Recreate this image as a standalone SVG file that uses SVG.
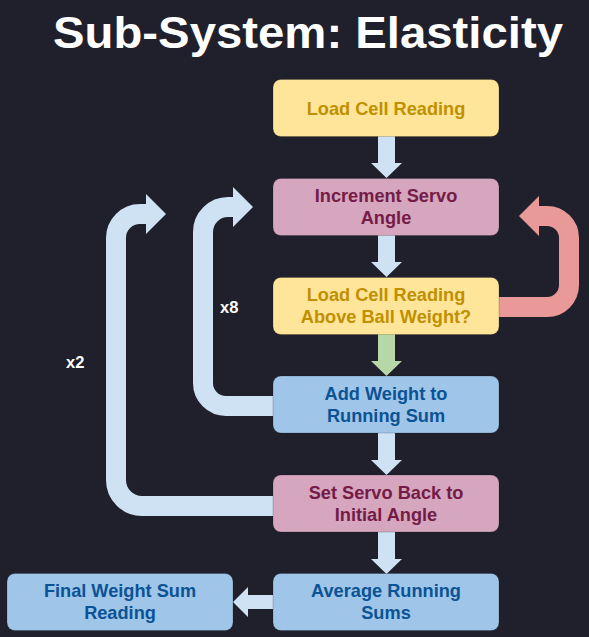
<svg xmlns="http://www.w3.org/2000/svg" width="589" height="637" viewBox="0 0 589 637">
<style>
.bg{fill:#1f202b}
.box{stroke:#000;stroke-opacity:0.18;stroke-width:1}
.y{fill:#ffe599}.p{fill:#d5a6bd}.b{fill:#9fc5e8}
.t{font-family:"Liberation Sans",Arial,sans-serif;font-weight:bold;font-size:18.2px;text-anchor:middle}
.ty{fill:#bf9000}.tp{fill:#741b47}.tb{fill:#0b5394}
.loop{fill:none;stroke-width:20;stroke-linejoin:round}
.lb{stroke:#cfe2f3}.lr{stroke:#ea9999}
.fb{fill:#cfe2f3}.fr{fill:#ea9999}.fg{fill:#b6d7a8}
.lbl{font-family:"Liberation Sans",Arial,sans-serif;font-weight:bold;font-size:16.5px;fill:#ffffff}
</style>
<rect class="bg" x="0" y="0" width="589" height="637"/>
<text x="308" y="48" font-family="Liberation Sans, Arial, sans-serif" font-weight="bold" font-size="45" fill="#ffffff" text-anchor="middle" textLength="510" lengthAdjust="spacingAndGlyphs">Sub-System: Elasticity</text>
<g id="connectors">
  <polygon class="fb" points="378,136 395,136 395,163 402,163 386.5,178 371,163 378,163"/>
  <polygon class="fb" points="378,235 395,235 395,262 402,262 386.5,277 371,262 378,262"/>
  <polygon class="fg" points="378,334 395,334 395,361 402,361 386.5,376 371,361 378,361"/>
  <polygon class="fb" points="378,432 395,432 395,460 402,460 386.5,475 371,460 378,460"/>
  <polygon class="fb" points="378,531 395,531 395,559 402,559 386.5,574 371,559 378,559"/>
  <polygon class="fb" points="273,595 248,595 248,587 233,602 248,617 248,609 273,609"/>
  <path class="loop lb" d="M 274 406 H 226 A 23 23 0 0 1 203 383 V 232 A 25 25 0 0 1 228 207 H 236"/>
  <polygon class="fb" points="233,187 253,207 233,227"/>
  <path class="loop lb" d="M 274 506 H 142 A 26 26 0 0 1 116 480 V 238 A 24 24 0 0 1 140 214 H 148"/>
  <polygon class="fb" points="146,194 166,214 146,234"/>
  <path class="loop lr" d="M 498 307 H 547 A 22 22 0 0 0 569 285 V 238 A 22 22 0 0 0 547 216 H 537"/>
  <polygon class="fr" points="539,196 519,216 539,236"/>
</g>
<g id="n1"><rect class="box y" x="273" y="79.5" width="226" height="57" rx="8"/><text class="t ty" x="386" y="115">Load Cell Reading</text></g>
<g id="n2"><rect class="box p" x="273" y="178.5" width="226" height="57" rx="8"/><text class="t tp" x="386" y="202">Increment Servo</text><text class="t tp" x="386" y="224">Angle</text></g>
<g id="n3"><rect class="box y" x="273" y="277.5" width="226" height="57" rx="8"/><text class="t ty" x="386" y="301">Load Cell Reading</text><text class="t ty" x="386" y="323">Above Ball Weight?</text></g>
<g id="n4"><rect class="box b" x="273" y="376" width="226" height="57" rx="8"/><text class="t tb" x="386" y="400">Add Weight to</text><text class="t tb" x="386" y="422">Running Sum</text></g>
<g id="n5"><rect class="box p" x="273" y="475" width="226" height="57" rx="8"/><text class="t tp" x="386" y="499">Set Servo Back to</text><text class="t tp" x="386" y="521">Initial Angle</text></g>
<g id="n6"><rect class="box b" x="273" y="573.5" width="226" height="57" rx="8"/><text class="t tb" x="386" y="597">Average Running</text><text class="t tb" x="386" y="619">Sums</text></g>
<g id="n7"><rect class="box b" x="7" y="573.5" width="226" height="57" rx="8"/><text class="t tb" x="120" y="597">Final Weight Sum</text><text class="t tb" x="120" y="619">Reading</text></g>
<text class="lbl" x="220" y="313">x8</text>
<text class="lbl" x="66" y="368">x2</text>
</svg>
